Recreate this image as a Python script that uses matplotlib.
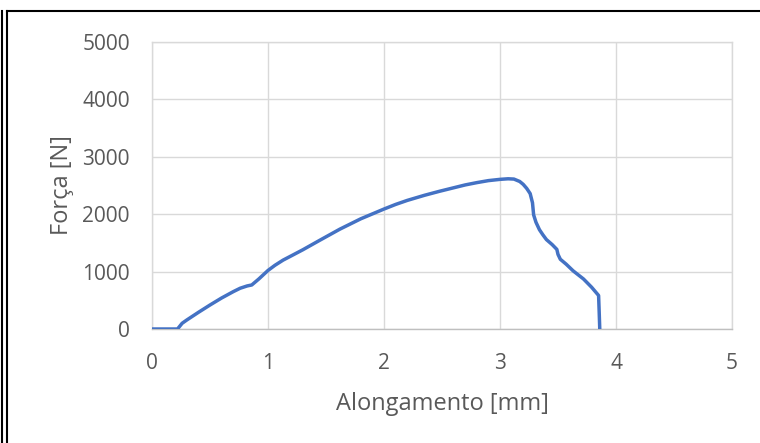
import matplotlib
matplotlib.use("Agg")
import matplotlib.pyplot as plt
from matplotlib.lines import Line2D

# alongamento [mm] x força [N]
alongamento = [0.0, 0.10, 0.22, 0.26, 0.30, 0.40, 0.50, 0.60, 0.70, 0.76, 0.82, 0.86,
               0.92, 1.00, 1.06, 1.13, 1.22, 1.30, 1.45, 1.62, 1.80, 2.00, 2.10,
               2.20, 2.35, 2.48, 2.60, 2.70, 2.80, 2.90, 3.00, 3.07, 3.12, 3.17,
               3.20, 3.23, 3.26, 3.28, 3.29, 3.31, 3.34, 3.37, 3.40, 3.45, 3.49,
               3.50, 3.52, 3.57, 3.63, 3.72, 3.79, 3.85, 3.855, 3.86]
forca = [0, 0, 0, 100, 157, 290, 418, 540, 650, 710, 750, 767,
         870, 1020, 1110, 1200, 1295, 1380, 1550, 1740, 1920, 2090, 2170,
         2240, 2330, 2400, 2460, 2510, 2550, 2585, 2607, 2617, 2612, 2570,
         2520, 2450, 2359, 2200, 1988, 1860, 1730, 1640, 1558, 1470, 1387,
         1300, 1215, 1130, 1014, 871, 727, 584, 300, 0]

x_ticks = [0, 1, 2, 3, 4, 5]
y_ticks = [0, 1000, 2000, 3000, 4000, 5000]

plt.rcParams['font.family'] = ['Open Sans', 'DejaVu Sans']

fig = plt.figure(figsize=(7.6, 4.43), dpi=100)
ax = fig.add_axes([152 / 760, 1 - 329 / 443, 580 / 760, 287 / 443])

ax.plot(alongamento, forca, color='#4472C4', lw=2.5, solid_joinstyle='round',
        solid_capstyle='round', zorder=3)

ax.set_xlim(0, 5)
ax.set_ylim(0, 5000)
ax.set_xticks(x_ticks)
ax.set_yticks(y_ticks)
ax.grid(True, color='#D9D9D9', lw=1.0)
ax.set_axisbelow(True)
for s in ax.spines.values():
    s.set_color('#D9D9D9')
    s.set_linewidth(1.0)
ax.spines['bottom'].set_color('#BFBFBF')
ax.tick_params(length=0, labelsize=15, labelcolor='#595959')
ax.tick_params(axis='x', pad=17)
ax.tick_params(axis='y', pad=16)

ax.set_xlabel('Alongamento [mm]', fontsize=17, color='#595959', labelpad=13)
ax.set_ylabel('Força [N]', fontsize=17, color='#595959', labelpad=6)

# frame lines around the chart
fig.add_artist(Line2D([7 / 760, 1], [1 - 10.5 / 443] * 2, color='black', lw=1.5))
fig.add_artist(Line2D([2 / 760] * 2, [0, 1 - 10.5 / 443], color='black', lw=1.5))
fig.add_artist(Line2D([7 / 760] * 2, [0, 1 - 10.5 / 443], color='black', lw=1.5))

fig.savefig('out.png', dpi=100)
